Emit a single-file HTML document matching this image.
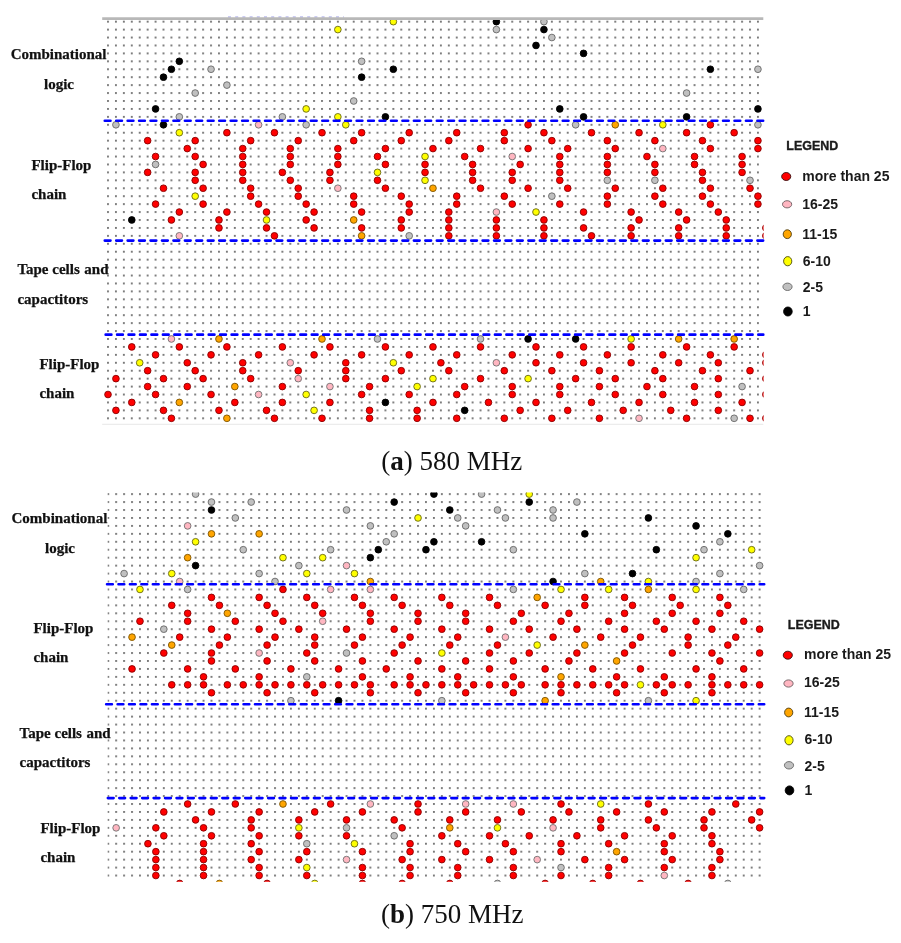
<!DOCTYPE html>
<html><head><meta charset="utf-8"><title>Figure</title>
<style>
html,body{margin:0;padding:0;background:#fff}
text{-webkit-font-smoothing:antialiased}
svg{will-change:transform}
body{width:901px;height:943px;overflow:hidden;position:relative}
.l{font-family:"Liberation Serif",serif;font-weight:bold;font-size:15px;fill:#111;stroke:#111;stroke-width:0.25px}
.lg{font-family:"Liberation Sans",sans-serif;font-weight:bold;font-size:12.8px;fill:#1a1a1a;stroke:#1a1a1a;stroke-width:0.35px}
.li{font-family:"Liberation Sans",sans-serif;font-weight:bold;font-size:14px;fill:#1a1a1a}
.cap{font-family:"Liberation Serif",serif;font-size:27px;fill:#111}
</style></head><body>
<svg width="901" height="943" viewBox="0 0 901 943" style="position:absolute;left:0;top:0">
<defs>
<pattern id="pa" x="107.05" y="20.7" width="7.926" height="7.933" patternUnits="userSpaceOnUse"><rect width="1.9" height="1.9" fill="#767676"/></pattern>
<pattern id="pb" x="107.25" y="493.15" width="7.944" height="7.946" patternUnits="userSpaceOnUse"><rect width="1.9" height="1.9" fill="#767676"/></pattern>
<clipPath id="ca"><rect x="100" y="20" width="663.5" height="405"/></clipPath>
<clipPath id="cb"><rect x="107.6" y="492.5" width="660" height="389.3"/></clipPath>
</defs>
<rect x="106" y="19.65" width="653.93" height="400.65" fill="url(#pa)"/>
<g clip-path="url(#ca)">
<g fill="#c0c0c0" stroke="#686868" stroke-width="0.9">
<circle cx="211.04" cy="69.25" r="3.35"/>
<circle cx="226.89" cy="85.11" r="3.35"/>
<circle cx="195.19" cy="93.05" r="3.35"/>
<circle cx="179.33" cy="116.85" r="3.35"/>
<circle cx="353.71" cy="100.98" r="3.35"/>
<circle cx="282.37" cy="116.85" r="3.35"/>
<circle cx="361.63" cy="61.31" r="3.35"/>
<circle cx="496.37" cy="29.58" r="3.35"/>
<circle cx="543.93" cy="21.65" r="3.35"/>
<circle cx="551.86" cy="37.52" r="3.35"/>
<circle cx="757.93" cy="69.25" r="3.35"/>
<circle cx="686.6" cy="93.05" r="3.35"/>
<circle cx="115.93" cy="124.78" r="3.35"/>
<circle cx="155.56" cy="164.44" r="3.35"/>
<circle cx="306.15" cy="124.78" r="3.35"/>
<circle cx="409.19" cy="235.84" r="3.35"/>
<circle cx="575.63" cy="124.78" r="3.35"/>
<circle cx="607.34" cy="180.31" r="3.35"/>
<circle cx="551.86" cy="196.18" r="3.35"/>
<circle cx="757.93" cy="124.78" r="3.35"/>
<circle cx="654.89" cy="180.31" r="3.35"/>
<circle cx="750.01" cy="180.31" r="3.35"/>
<circle cx="377.48" cy="338.97" r="3.35"/>
<circle cx="480.52" cy="338.97" r="3.35"/>
<circle cx="742.08" cy="386.57" r="3.35"/>
<circle cx="734.15" cy="418.3" r="3.35"/>
</g>
<g fill="#000000" stroke="#000000" stroke-width="0.9">
<circle cx="179.33" cy="61.31" r="3.35"/>
<circle cx="171.41" cy="69.25" r="3.35"/>
<circle cx="163.48" cy="77.18" r="3.35"/>
<circle cx="155.56" cy="108.91" r="3.35"/>
<circle cx="393.34" cy="69.25" r="3.35"/>
<circle cx="361.63" cy="77.18" r="3.35"/>
<circle cx="385.41" cy="116.85" r="3.35"/>
<circle cx="496.37" cy="21.65" r="3.35"/>
<circle cx="543.93" cy="29.58" r="3.35"/>
<circle cx="536" cy="45.45" r="3.35"/>
<circle cx="583.56" cy="53.38" r="3.35"/>
<circle cx="559.78" cy="108.91" r="3.35"/>
<circle cx="583.56" cy="116.85" r="3.35"/>
<circle cx="710.38" cy="69.25" r="3.35"/>
<circle cx="757.93" cy="108.91" r="3.35"/>
<circle cx="686.6" cy="116.85" r="3.35"/>
<circle cx="163.48" cy="124.78" r="3.35"/>
<circle cx="131.78" cy="219.97" r="3.35"/>
<circle cx="385.41" cy="402.43" r="3.35"/>
<circle cx="464.67" cy="410.37" r="3.35"/>
<circle cx="528.08" cy="338.97" r="3.35"/>
<circle cx="575.63" cy="338.97" r="3.35"/>
</g>
<g fill="#ffff00" stroke="#66661a" stroke-width="0.9">
<circle cx="337.85" cy="29.58" r="3.35"/>
<circle cx="306.15" cy="108.91" r="3.35"/>
<circle cx="337.85" cy="116.85" r="3.35"/>
<circle cx="393.34" cy="21.65" r="3.35"/>
<circle cx="179.33" cy="132.71" r="3.35"/>
<circle cx="195.19" cy="196.18" r="3.35"/>
<circle cx="345.78" cy="124.78" r="3.35"/>
<circle cx="266.52" cy="219.97" r="3.35"/>
<circle cx="425.04" cy="156.51" r="3.35"/>
<circle cx="377.48" cy="172.38" r="3.35"/>
<circle cx="425.04" cy="180.31" r="3.35"/>
<circle cx="536" cy="212.04" r="3.35"/>
<circle cx="662.82" cy="124.78" r="3.35"/>
<circle cx="139.7" cy="362.77" r="3.35"/>
<circle cx="306.15" cy="394.5" r="3.35"/>
<circle cx="314.08" cy="410.37" r="3.35"/>
<circle cx="393.34" cy="362.77" r="3.35"/>
<circle cx="432.97" cy="378.63" r="3.35"/>
<circle cx="417.11" cy="386.57" r="3.35"/>
<circle cx="528.08" cy="378.63" r="3.35"/>
<circle cx="631.12" cy="338.97" r="3.35"/>
</g>
<g fill="#ffa500" stroke="#7a5200" stroke-width="0.9">
<circle cx="353.71" cy="219.97" r="3.35"/>
<circle cx="432.97" cy="188.24" r="3.35"/>
<circle cx="361.63" cy="235.84" r="3.35"/>
<circle cx="615.26" cy="124.78" r="3.35"/>
<circle cx="218.96" cy="338.97" r="3.35"/>
<circle cx="179.33" cy="402.43" r="3.35"/>
<circle cx="226.89" cy="418.3" r="3.35"/>
<circle cx="322" cy="338.97" r="3.35"/>
<circle cx="234.82" cy="386.57" r="3.35"/>
<circle cx="678.67" cy="338.97" r="3.35"/>
<circle cx="734.15" cy="338.97" r="3.35"/>
</g>
<g fill="#ffb6c1" stroke="#707070" stroke-width="0.9">
<circle cx="179.33" cy="235.84" r="3.35"/>
<circle cx="258.59" cy="124.78" r="3.35"/>
<circle cx="337.85" cy="188.24" r="3.35"/>
<circle cx="512.23" cy="156.51" r="3.35"/>
<circle cx="496.37" cy="212.04" r="3.35"/>
<circle cx="662.82" cy="148.58" r="3.35"/>
<circle cx="171.41" cy="338.97" r="3.35"/>
<circle cx="290.3" cy="362.77" r="3.35"/>
<circle cx="298.22" cy="378.63" r="3.35"/>
<circle cx="329.93" cy="386.57" r="3.35"/>
<circle cx="258.59" cy="394.5" r="3.35"/>
<circle cx="496.37" cy="362.77" r="3.35"/>
<circle cx="639.04" cy="418.3" r="3.35"/>
</g>
<g fill="#ff0000" stroke="#880000" stroke-width="0.9">
<circle cx="226.89" cy="132.71" r="3.35"/>
<circle cx="147.63" cy="140.65" r="3.35"/>
<circle cx="195.19" cy="140.65" r="3.35"/>
<circle cx="187.26" cy="148.58" r="3.35"/>
<circle cx="155.56" cy="156.51" r="3.35"/>
<circle cx="195.19" cy="156.51" r="3.35"/>
<circle cx="203.11" cy="164.44" r="3.35"/>
<circle cx="147.63" cy="172.38" r="3.35"/>
<circle cx="195.19" cy="172.38" r="3.35"/>
<circle cx="195.19" cy="180.31" r="3.35"/>
<circle cx="163.48" cy="188.24" r="3.35"/>
<circle cx="203.11" cy="188.24" r="3.35"/>
<circle cx="155.56" cy="204.11" r="3.35"/>
<circle cx="203.11" cy="204.11" r="3.35"/>
<circle cx="179.33" cy="212.04" r="3.35"/>
<circle cx="226.89" cy="212.04" r="3.35"/>
<circle cx="171.41" cy="219.97" r="3.35"/>
<circle cx="218.96" cy="219.97" r="3.35"/>
<circle cx="218.96" cy="227.91" r="3.35"/>
<circle cx="274.45" cy="132.71" r="3.35"/>
<circle cx="322" cy="132.71" r="3.35"/>
<circle cx="250.67" cy="140.65" r="3.35"/>
<circle cx="298.22" cy="140.65" r="3.35"/>
<circle cx="353.71" cy="140.65" r="3.35"/>
<circle cx="242.74" cy="148.58" r="3.35"/>
<circle cx="290.3" cy="148.58" r="3.35"/>
<circle cx="337.85" cy="148.58" r="3.35"/>
<circle cx="242.74" cy="156.51" r="3.35"/>
<circle cx="290.3" cy="156.51" r="3.35"/>
<circle cx="337.85" cy="156.51" r="3.35"/>
<circle cx="242.74" cy="164.44" r="3.35"/>
<circle cx="290.3" cy="164.44" r="3.35"/>
<circle cx="337.85" cy="164.44" r="3.35"/>
<circle cx="242.74" cy="172.38" r="3.35"/>
<circle cx="282.37" cy="172.38" r="3.35"/>
<circle cx="329.93" cy="172.38" r="3.35"/>
<circle cx="242.74" cy="180.31" r="3.35"/>
<circle cx="290.3" cy="180.31" r="3.35"/>
<circle cx="329.93" cy="180.31" r="3.35"/>
<circle cx="250.67" cy="188.24" r="3.35"/>
<circle cx="298.22" cy="188.24" r="3.35"/>
<circle cx="250.67" cy="196.18" r="3.35"/>
<circle cx="298.22" cy="196.18" r="3.35"/>
<circle cx="353.71" cy="196.18" r="3.35"/>
<circle cx="258.59" cy="204.11" r="3.35"/>
<circle cx="306.15" cy="204.11" r="3.35"/>
<circle cx="353.71" cy="204.11" r="3.35"/>
<circle cx="266.52" cy="212.04" r="3.35"/>
<circle cx="314.08" cy="212.04" r="3.35"/>
<circle cx="306.15" cy="219.97" r="3.35"/>
<circle cx="266.52" cy="227.91" r="3.35"/>
<circle cx="314.08" cy="227.91" r="3.35"/>
<circle cx="274.45" cy="235.84" r="3.35"/>
<circle cx="361.63" cy="132.71" r="3.35"/>
<circle cx="409.19" cy="132.71" r="3.35"/>
<circle cx="456.74" cy="132.71" r="3.35"/>
<circle cx="401.26" cy="140.65" r="3.35"/>
<circle cx="448.82" cy="140.65" r="3.35"/>
<circle cx="385.41" cy="148.58" r="3.35"/>
<circle cx="432.97" cy="148.58" r="3.35"/>
<circle cx="480.52" cy="148.58" r="3.35"/>
<circle cx="377.48" cy="156.51" r="3.35"/>
<circle cx="464.67" cy="156.51" r="3.35"/>
<circle cx="385.41" cy="164.44" r="3.35"/>
<circle cx="425.04" cy="164.44" r="3.35"/>
<circle cx="472.6" cy="164.44" r="3.35"/>
<circle cx="425.04" cy="172.38" r="3.35"/>
<circle cx="472.6" cy="172.38" r="3.35"/>
<circle cx="377.48" cy="180.31" r="3.35"/>
<circle cx="472.6" cy="180.31" r="3.35"/>
<circle cx="385.41" cy="188.24" r="3.35"/>
<circle cx="480.52" cy="188.24" r="3.35"/>
<circle cx="401.26" cy="196.18" r="3.35"/>
<circle cx="456.74" cy="196.18" r="3.35"/>
<circle cx="409.19" cy="204.11" r="3.35"/>
<circle cx="456.74" cy="204.11" r="3.35"/>
<circle cx="361.63" cy="212.04" r="3.35"/>
<circle cx="409.19" cy="212.04" r="3.35"/>
<circle cx="448.82" cy="212.04" r="3.35"/>
<circle cx="401.26" cy="219.97" r="3.35"/>
<circle cx="448.82" cy="219.97" r="3.35"/>
<circle cx="361.63" cy="227.91" r="3.35"/>
<circle cx="401.26" cy="227.91" r="3.35"/>
<circle cx="448.82" cy="227.91" r="3.35"/>
<circle cx="448.82" cy="235.84" r="3.35"/>
<circle cx="528.08" cy="124.78" r="3.35"/>
<circle cx="504.3" cy="132.71" r="3.35"/>
<circle cx="543.93" cy="132.71" r="3.35"/>
<circle cx="591.49" cy="132.71" r="3.35"/>
<circle cx="504.3" cy="140.65" r="3.35"/>
<circle cx="551.86" cy="140.65" r="3.35"/>
<circle cx="607.34" cy="140.65" r="3.35"/>
<circle cx="528.08" cy="148.58" r="3.35"/>
<circle cx="567.71" cy="148.58" r="3.35"/>
<circle cx="615.26" cy="148.58" r="3.35"/>
<circle cx="559.78" cy="156.51" r="3.35"/>
<circle cx="607.34" cy="156.51" r="3.35"/>
<circle cx="520.15" cy="164.44" r="3.35"/>
<circle cx="559.78" cy="164.44" r="3.35"/>
<circle cx="607.34" cy="164.44" r="3.35"/>
<circle cx="512.23" cy="172.38" r="3.35"/>
<circle cx="559.78" cy="172.38" r="3.35"/>
<circle cx="607.34" cy="172.38" r="3.35"/>
<circle cx="512.23" cy="180.31" r="3.35"/>
<circle cx="559.78" cy="180.31" r="3.35"/>
<circle cx="528.08" cy="188.24" r="3.35"/>
<circle cx="567.71" cy="188.24" r="3.35"/>
<circle cx="615.26" cy="188.24" r="3.35"/>
<circle cx="504.3" cy="196.18" r="3.35"/>
<circle cx="607.34" cy="196.18" r="3.35"/>
<circle cx="512.23" cy="204.11" r="3.35"/>
<circle cx="559.78" cy="204.11" r="3.35"/>
<circle cx="607.34" cy="204.11" r="3.35"/>
<circle cx="583.56" cy="212.04" r="3.35"/>
<circle cx="496.37" cy="219.97" r="3.35"/>
<circle cx="543.93" cy="219.97" r="3.35"/>
<circle cx="496.37" cy="227.91" r="3.35"/>
<circle cx="543.93" cy="227.91" r="3.35"/>
<circle cx="583.56" cy="227.91" r="3.35"/>
<circle cx="496.37" cy="235.84" r="3.35"/>
<circle cx="543.93" cy="235.84" r="3.35"/>
<circle cx="591.49" cy="235.84" r="3.35"/>
<circle cx="710.38" cy="124.78" r="3.35"/>
<circle cx="639.04" cy="132.71" r="3.35"/>
<circle cx="686.6" cy="132.71" r="3.35"/>
<circle cx="734.15" cy="132.71" r="3.35"/>
<circle cx="654.89" cy="140.65" r="3.35"/>
<circle cx="702.45" cy="140.65" r="3.35"/>
<circle cx="757.93" cy="140.65" r="3.35"/>
<circle cx="710.38" cy="148.58" r="3.35"/>
<circle cx="757.93" cy="148.58" r="3.35"/>
<circle cx="646.97" cy="156.51" r="3.35"/>
<circle cx="694.52" cy="156.51" r="3.35"/>
<circle cx="742.08" cy="156.51" r="3.35"/>
<circle cx="654.89" cy="164.44" r="3.35"/>
<circle cx="694.52" cy="164.44" r="3.35"/>
<circle cx="742.08" cy="164.44" r="3.35"/>
<circle cx="654.89" cy="172.38" r="3.35"/>
<circle cx="702.45" cy="172.38" r="3.35"/>
<circle cx="742.08" cy="172.38" r="3.35"/>
<circle cx="702.45" cy="180.31" r="3.35"/>
<circle cx="662.82" cy="188.24" r="3.35"/>
<circle cx="710.38" cy="188.24" r="3.35"/>
<circle cx="750.01" cy="188.24" r="3.35"/>
<circle cx="654.89" cy="196.18" r="3.35"/>
<circle cx="702.45" cy="196.18" r="3.35"/>
<circle cx="757.93" cy="196.18" r="3.35"/>
<circle cx="662.82" cy="204.11" r="3.35"/>
<circle cx="710.38" cy="204.11" r="3.35"/>
<circle cx="757.93" cy="204.11" r="3.35"/>
<circle cx="631.12" cy="212.04" r="3.35"/>
<circle cx="678.67" cy="212.04" r="3.35"/>
<circle cx="718.3" cy="212.04" r="3.35"/>
<circle cx="639.04" cy="219.97" r="3.35"/>
<circle cx="686.6" cy="219.97" r="3.35"/>
<circle cx="726.23" cy="219.97" r="3.35"/>
<circle cx="631.12" cy="227.91" r="3.35"/>
<circle cx="678.67" cy="227.91" r="3.35"/>
<circle cx="726.23" cy="227.91" r="3.35"/>
<circle cx="631.12" cy="235.84" r="3.35"/>
<circle cx="678.67" cy="235.84" r="3.35"/>
<circle cx="726.23" cy="235.84" r="3.35"/>
<circle cx="765.86" cy="227.91" r="3.35"/>
<circle cx="765.86" cy="235.84" r="3.35"/>
<circle cx="131.78" cy="346.9" r="3.35"/>
<circle cx="179.33" cy="346.9" r="3.35"/>
<circle cx="226.89" cy="346.9" r="3.35"/>
<circle cx="155.56" cy="354.84" r="3.35"/>
<circle cx="211.04" cy="354.84" r="3.35"/>
<circle cx="187.26" cy="362.77" r="3.35"/>
<circle cx="147.63" cy="370.7" r="3.35"/>
<circle cx="195.19" cy="370.7" r="3.35"/>
<circle cx="115.93" cy="378.63" r="3.35"/>
<circle cx="163.48" cy="378.63" r="3.35"/>
<circle cx="203.11" cy="378.63" r="3.35"/>
<circle cx="147.63" cy="386.57" r="3.35"/>
<circle cx="187.26" cy="386.57" r="3.35"/>
<circle cx="108" cy="394.5" r="3.35"/>
<circle cx="155.56" cy="394.5" r="3.35"/>
<circle cx="211.04" cy="394.5" r="3.35"/>
<circle cx="131.78" cy="402.43" r="3.35"/>
<circle cx="115.93" cy="410.37" r="3.35"/>
<circle cx="163.48" cy="410.37" r="3.35"/>
<circle cx="218.96" cy="410.37" r="3.35"/>
<circle cx="171.41" cy="418.3" r="3.35"/>
<circle cx="282.37" cy="346.9" r="3.35"/>
<circle cx="329.93" cy="346.9" r="3.35"/>
<circle cx="258.59" cy="354.84" r="3.35"/>
<circle cx="314.08" cy="354.84" r="3.35"/>
<circle cx="242.74" cy="362.77" r="3.35"/>
<circle cx="345.78" cy="362.77" r="3.35"/>
<circle cx="242.74" cy="370.7" r="3.35"/>
<circle cx="298.22" cy="370.7" r="3.35"/>
<circle cx="345.78" cy="370.7" r="3.35"/>
<circle cx="250.67" cy="378.63" r="3.35"/>
<circle cx="345.78" cy="378.63" r="3.35"/>
<circle cx="282.37" cy="386.57" r="3.35"/>
<circle cx="234.82" cy="402.43" r="3.35"/>
<circle cx="282.37" cy="402.43" r="3.35"/>
<circle cx="329.93" cy="402.43" r="3.35"/>
<circle cx="266.52" cy="410.37" r="3.35"/>
<circle cx="274.45" cy="418.3" r="3.35"/>
<circle cx="322" cy="418.3" r="3.35"/>
<circle cx="385.41" cy="346.9" r="3.35"/>
<circle cx="432.97" cy="346.9" r="3.35"/>
<circle cx="480.52" cy="346.9" r="3.35"/>
<circle cx="361.63" cy="354.84" r="3.35"/>
<circle cx="409.19" cy="354.84" r="3.35"/>
<circle cx="456.74" cy="354.84" r="3.35"/>
<circle cx="440.89" cy="362.77" r="3.35"/>
<circle cx="401.26" cy="370.7" r="3.35"/>
<circle cx="448.82" cy="370.7" r="3.35"/>
<circle cx="385.41" cy="378.63" r="3.35"/>
<circle cx="480.52" cy="378.63" r="3.35"/>
<circle cx="369.56" cy="386.57" r="3.35"/>
<circle cx="464.67" cy="386.57" r="3.35"/>
<circle cx="361.63" cy="394.5" r="3.35"/>
<circle cx="409.19" cy="394.5" r="3.35"/>
<circle cx="456.74" cy="394.5" r="3.35"/>
<circle cx="432.97" cy="402.43" r="3.35"/>
<circle cx="369.56" cy="410.37" r="3.35"/>
<circle cx="417.11" cy="410.37" r="3.35"/>
<circle cx="369.56" cy="418.3" r="3.35"/>
<circle cx="417.11" cy="418.3" r="3.35"/>
<circle cx="456.74" cy="418.3" r="3.35"/>
<circle cx="536" cy="346.9" r="3.35"/>
<circle cx="583.56" cy="346.9" r="3.35"/>
<circle cx="512.23" cy="354.84" r="3.35"/>
<circle cx="559.78" cy="354.84" r="3.35"/>
<circle cx="607.34" cy="354.84" r="3.35"/>
<circle cx="536" cy="362.77" r="3.35"/>
<circle cx="583.56" cy="362.77" r="3.35"/>
<circle cx="504.3" cy="370.7" r="3.35"/>
<circle cx="551.86" cy="370.7" r="3.35"/>
<circle cx="599.41" cy="370.7" r="3.35"/>
<circle cx="575.63" cy="378.63" r="3.35"/>
<circle cx="615.26" cy="378.63" r="3.35"/>
<circle cx="512.23" cy="386.57" r="3.35"/>
<circle cx="559.78" cy="386.57" r="3.35"/>
<circle cx="599.41" cy="386.57" r="3.35"/>
<circle cx="512.23" cy="394.5" r="3.35"/>
<circle cx="559.78" cy="394.5" r="3.35"/>
<circle cx="615.26" cy="394.5" r="3.35"/>
<circle cx="488.45" cy="402.43" r="3.35"/>
<circle cx="536" cy="402.43" r="3.35"/>
<circle cx="591.49" cy="402.43" r="3.35"/>
<circle cx="520.15" cy="410.37" r="3.35"/>
<circle cx="567.71" cy="410.37" r="3.35"/>
<circle cx="504.3" cy="418.3" r="3.35"/>
<circle cx="551.86" cy="418.3" r="3.35"/>
<circle cx="599.41" cy="418.3" r="3.35"/>
<circle cx="631.12" cy="346.9" r="3.35"/>
<circle cx="686.6" cy="346.9" r="3.35"/>
<circle cx="734.15" cy="346.9" r="3.35"/>
<circle cx="662.82" cy="354.84" r="3.35"/>
<circle cx="710.38" cy="354.84" r="3.35"/>
<circle cx="631.12" cy="362.77" r="3.35"/>
<circle cx="678.67" cy="362.77" r="3.35"/>
<circle cx="718.3" cy="362.77" r="3.35"/>
<circle cx="654.89" cy="370.7" r="3.35"/>
<circle cx="702.45" cy="370.7" r="3.35"/>
<circle cx="750.01" cy="370.7" r="3.35"/>
<circle cx="662.82" cy="378.63" r="3.35"/>
<circle cx="718.3" cy="378.63" r="3.35"/>
<circle cx="646.97" cy="386.57" r="3.35"/>
<circle cx="694.52" cy="386.57" r="3.35"/>
<circle cx="662.82" cy="394.5" r="3.35"/>
<circle cx="718.3" cy="394.5" r="3.35"/>
<circle cx="639.04" cy="402.43" r="3.35"/>
<circle cx="694.52" cy="402.43" r="3.35"/>
<circle cx="742.08" cy="402.43" r="3.35"/>
<circle cx="623.19" cy="410.37" r="3.35"/>
<circle cx="670.75" cy="410.37" r="3.35"/>
<circle cx="718.3" cy="410.37" r="3.35"/>
<circle cx="686.6" cy="418.3" r="3.35"/>
<circle cx="750.01" cy="418.3" r="3.35"/>
<circle cx="765.86" cy="354.84" r="3.35"/>
<circle cx="765.86" cy="362.77" r="3.35"/>
<circle cx="765.86" cy="378.63" r="3.35"/>
<circle cx="765.86" cy="394.5" r="3.35"/>
<circle cx="765.86" cy="418.3" r="3.35"/>
</g>
</g>
<line x1="228" y1="17.0" x2="344" y2="17.0" stroke="#9a9ae6" stroke-width="1.2" stroke-dasharray="3 4.2"/>
<line x1="102.2" y1="18.6" x2="763.3" y2="18.6" stroke="#b8b8b8" stroke-width="2.7"/>
<line x1="102.2" y1="424.4" x2="763.3" y2="424.4" stroke="#ececec" stroke-width="1.2"/>
<line x1="104.75" y1="120.7" x2="763.3" y2="120.7" stroke="#0000ff" stroke-width="2.6" stroke-dasharray="5.75 5.7" stroke-linecap="round"/>
<line x1="104.75" y1="240.6" x2="763.3" y2="240.6" stroke="#0000ff" stroke-width="2.6" stroke-dasharray="5.75 5.7" stroke-linecap="round"/>
<line x1="105.65" y1="334.65" x2="763.3" y2="334.65" stroke="#0000ff" stroke-width="2.6" stroke-dasharray="5.75 5.7" stroke-linecap="round"/>
<g clip-path="url(#cb)">
<rect x="106.2" y="492.1" width="655.41" height="389.9" fill="url(#pb)"/>
<g fill="#c0c0c0" stroke="#686868" stroke-width="0.9">
<circle cx="195.58" cy="494.1" r="3.35"/>
<circle cx="211.47" cy="502.05" r="3.35"/>
<circle cx="124.09" cy="573.56" r="3.35"/>
<circle cx="251.19" cy="502.05" r="3.35"/>
<circle cx="346.52" cy="509.99" r="3.35"/>
<circle cx="235.3" cy="517.94" r="3.35"/>
<circle cx="243.25" cy="549.72" r="3.35"/>
<circle cx="330.63" cy="549.72" r="3.35"/>
<circle cx="298.86" cy="565.61" r="3.35"/>
<circle cx="259.14" cy="573.56" r="3.35"/>
<circle cx="275.02" cy="581.51" r="3.35"/>
<circle cx="481.57" cy="494.1" r="3.35"/>
<circle cx="457.74" cy="517.94" r="3.35"/>
<circle cx="370.35" cy="525.88" r="3.35"/>
<circle cx="465.68" cy="525.88" r="3.35"/>
<circle cx="394.18" cy="533.83" r="3.35"/>
<circle cx="386.24" cy="541.78" r="3.35"/>
<circle cx="576.9" cy="502.05" r="3.35"/>
<circle cx="497.46" cy="509.99" r="3.35"/>
<circle cx="553.06" cy="509.99" r="3.35"/>
<circle cx="505.4" cy="517.94" r="3.35"/>
<circle cx="553.06" cy="517.94" r="3.35"/>
<circle cx="513.34" cy="549.72" r="3.35"/>
<circle cx="584.84" cy="573.56" r="3.35"/>
<circle cx="719.89" cy="541.78" r="3.35"/>
<circle cx="704" cy="549.72" r="3.35"/>
<circle cx="759.61" cy="565.61" r="3.35"/>
<circle cx="719.89" cy="573.56" r="3.35"/>
<circle cx="696.06" cy="581.51" r="3.35"/>
<circle cx="187.64" cy="589.45" r="3.35"/>
<circle cx="163.81" cy="629.18" r="3.35"/>
<circle cx="346.52" cy="653.02" r="3.35"/>
<circle cx="306.8" cy="676.86" r="3.35"/>
<circle cx="290.91" cy="700.7" r="3.35"/>
<circle cx="441.85" cy="700.7" r="3.35"/>
<circle cx="513.34" cy="589.45" r="3.35"/>
<circle cx="743.72" cy="589.45" r="3.35"/>
<circle cx="648.39" cy="700.7" r="3.35"/>
<circle cx="346.52" cy="827.83" r="3.35"/>
<circle cx="306.8" cy="843.72" r="3.35"/>
<circle cx="394.18" cy="835.78" r="3.35"/>
<circle cx="561.01" cy="867.56" r="3.35"/>
<circle cx="497.46" cy="883.45" r="3.35"/>
<circle cx="727.83" cy="883.45" r="3.35"/>
</g>
<g fill="#000000" stroke="#000000" stroke-width="0.9">
<circle cx="211.47" cy="509.99" r="3.35"/>
<circle cx="195.58" cy="565.61" r="3.35"/>
<circle cx="433.9" cy="494.1" r="3.35"/>
<circle cx="394.18" cy="502.05" r="3.35"/>
<circle cx="449.79" cy="509.99" r="3.35"/>
<circle cx="433.9" cy="541.78" r="3.35"/>
<circle cx="481.57" cy="541.78" r="3.35"/>
<circle cx="378.3" cy="549.72" r="3.35"/>
<circle cx="425.96" cy="549.72" r="3.35"/>
<circle cx="370.35" cy="557.67" r="3.35"/>
<circle cx="529.23" cy="502.05" r="3.35"/>
<circle cx="584.84" cy="533.83" r="3.35"/>
<circle cx="553.06" cy="581.51" r="3.35"/>
<circle cx="648.39" cy="517.94" r="3.35"/>
<circle cx="696.06" cy="525.88" r="3.35"/>
<circle cx="727.83" cy="533.83" r="3.35"/>
<circle cx="656.34" cy="549.72" r="3.35"/>
<circle cx="632.5" cy="573.56" r="3.35"/>
<circle cx="338.58" cy="700.7" r="3.35"/>
</g>
<g fill="#ffff00" stroke="#66661a" stroke-width="0.9">
<circle cx="195.58" cy="541.78" r="3.35"/>
<circle cx="171.75" cy="573.56" r="3.35"/>
<circle cx="282.97" cy="557.67" r="3.35"/>
<circle cx="322.69" cy="557.67" r="3.35"/>
<circle cx="306.8" cy="573.56" r="3.35"/>
<circle cx="354.46" cy="573.56" r="3.35"/>
<circle cx="418.02" cy="517.94" r="3.35"/>
<circle cx="529.23" cy="494.1" r="3.35"/>
<circle cx="751.66" cy="549.72" r="3.35"/>
<circle cx="696.06" cy="557.67" r="3.35"/>
<circle cx="648.39" cy="581.51" r="3.35"/>
<circle cx="139.98" cy="589.45" r="3.35"/>
<circle cx="441.85" cy="653.02" r="3.35"/>
<circle cx="561.01" cy="589.45" r="3.35"/>
<circle cx="608.67" cy="589.45" r="3.35"/>
<circle cx="537.18" cy="645.07" r="3.35"/>
<circle cx="696.06" cy="589.45" r="3.35"/>
<circle cx="640.45" cy="684.8" r="3.35"/>
<circle cx="696.06" cy="700.7" r="3.35"/>
<circle cx="298.86" cy="827.83" r="3.35"/>
<circle cx="354.46" cy="843.72" r="3.35"/>
<circle cx="306.8" cy="867.56" r="3.35"/>
<circle cx="314.74" cy="883.45" r="3.35"/>
<circle cx="600.73" cy="803.99" r="3.35"/>
<circle cx="497.46" cy="827.83" r="3.35"/>
</g>
<g fill="#ffa500" stroke="#7a5200" stroke-width="0.9">
<circle cx="211.47" cy="533.83" r="3.35"/>
<circle cx="187.64" cy="557.67" r="3.35"/>
<circle cx="259.14" cy="533.83" r="3.35"/>
<circle cx="370.35" cy="581.51" r="3.35"/>
<circle cx="600.73" cy="581.51" r="3.35"/>
<circle cx="227.36" cy="613.29" r="3.35"/>
<circle cx="132.03" cy="637.13" r="3.35"/>
<circle cx="171.75" cy="645.07" r="3.35"/>
<circle cx="537.18" cy="597.4" r="3.35"/>
<circle cx="584.84" cy="645.07" r="3.35"/>
<circle cx="616.62" cy="660.97" r="3.35"/>
<circle cx="561.01" cy="676.86" r="3.35"/>
<circle cx="545.12" cy="700.7" r="3.35"/>
<circle cx="648.39" cy="589.45" r="3.35"/>
<circle cx="219.42" cy="883.45" r="3.35"/>
<circle cx="282.97" cy="803.99" r="3.35"/>
<circle cx="449.79" cy="827.83" r="3.35"/>
<circle cx="616.62" cy="851.67" r="3.35"/>
</g>
<g fill="#ffb6c1" stroke="#707070" stroke-width="0.9">
<circle cx="187.64" cy="525.88" r="3.35"/>
<circle cx="179.7" cy="581.51" r="3.35"/>
<circle cx="346.52" cy="565.61" r="3.35"/>
<circle cx="330.63" cy="589.45" r="3.35"/>
<circle cx="322.69" cy="621.24" r="3.35"/>
<circle cx="259.14" cy="653.02" r="3.35"/>
<circle cx="370.35" cy="589.45" r="3.35"/>
<circle cx="505.4" cy="637.13" r="3.35"/>
<circle cx="116.14" cy="827.83" r="3.35"/>
<circle cx="346.52" cy="859.62" r="3.35"/>
<circle cx="370.35" cy="803.99" r="3.35"/>
<circle cx="465.68" cy="803.99" r="3.35"/>
<circle cx="513.34" cy="803.99" r="3.35"/>
<circle cx="553.06" cy="827.83" r="3.35"/>
<circle cx="537.18" cy="859.62" r="3.35"/>
<circle cx="664.28" cy="875.51" r="3.35"/>
</g>
<g fill="#ff0000" stroke="#880000" stroke-width="0.9">
<circle cx="211.47" cy="597.4" r="3.35"/>
<circle cx="171.75" cy="605.34" r="3.35"/>
<circle cx="219.42" cy="605.34" r="3.35"/>
<circle cx="187.64" cy="613.29" r="3.35"/>
<circle cx="139.98" cy="621.24" r="3.35"/>
<circle cx="187.64" cy="621.24" r="3.35"/>
<circle cx="211.47" cy="629.18" r="3.35"/>
<circle cx="179.7" cy="637.13" r="3.35"/>
<circle cx="227.36" cy="637.13" r="3.35"/>
<circle cx="219.42" cy="645.07" r="3.35"/>
<circle cx="163.81" cy="653.02" r="3.35"/>
<circle cx="211.47" cy="653.02" r="3.35"/>
<circle cx="211.47" cy="660.97" r="3.35"/>
<circle cx="132.03" cy="668.91" r="3.35"/>
<circle cx="187.64" cy="668.91" r="3.35"/>
<circle cx="203.53" cy="676.86" r="3.35"/>
<circle cx="171.75" cy="684.8" r="3.35"/>
<circle cx="187.64" cy="684.8" r="3.35"/>
<circle cx="203.53" cy="684.8" r="3.35"/>
<circle cx="227.36" cy="684.8" r="3.35"/>
<circle cx="211.47" cy="692.75" r="3.35"/>
<circle cx="282.97" cy="589.45" r="3.35"/>
<circle cx="259.14" cy="597.4" r="3.35"/>
<circle cx="306.8" cy="597.4" r="3.35"/>
<circle cx="354.46" cy="597.4" r="3.35"/>
<circle cx="267.08" cy="605.34" r="3.35"/>
<circle cx="314.74" cy="605.34" r="3.35"/>
<circle cx="275.02" cy="613.29" r="3.35"/>
<circle cx="322.69" cy="613.29" r="3.35"/>
<circle cx="235.3" cy="621.24" r="3.35"/>
<circle cx="282.97" cy="621.24" r="3.35"/>
<circle cx="259.14" cy="629.18" r="3.35"/>
<circle cx="298.86" cy="629.18" r="3.35"/>
<circle cx="346.52" cy="629.18" r="3.35"/>
<circle cx="275.02" cy="637.13" r="3.35"/>
<circle cx="314.74" cy="637.13" r="3.35"/>
<circle cx="267.08" cy="645.07" r="3.35"/>
<circle cx="314.74" cy="645.07" r="3.35"/>
<circle cx="354.46" cy="645.07" r="3.35"/>
<circle cx="306.8" cy="653.02" r="3.35"/>
<circle cx="267.08" cy="660.97" r="3.35"/>
<circle cx="314.74" cy="660.97" r="3.35"/>
<circle cx="235.3" cy="668.91" r="3.35"/>
<circle cx="290.91" cy="668.91" r="3.35"/>
<circle cx="338.58" cy="668.91" r="3.35"/>
<circle cx="259.14" cy="676.86" r="3.35"/>
<circle cx="243.25" cy="684.8" r="3.35"/>
<circle cx="259.14" cy="684.8" r="3.35"/>
<circle cx="275.02" cy="684.8" r="3.35"/>
<circle cx="290.91" cy="684.8" r="3.35"/>
<circle cx="306.8" cy="684.8" r="3.35"/>
<circle cx="322.69" cy="684.8" r="3.35"/>
<circle cx="338.58" cy="684.8" r="3.35"/>
<circle cx="354.46" cy="684.8" r="3.35"/>
<circle cx="267.08" cy="692.75" r="3.35"/>
<circle cx="314.74" cy="692.75" r="3.35"/>
<circle cx="394.18" cy="597.4" r="3.35"/>
<circle cx="441.85" cy="597.4" r="3.35"/>
<circle cx="362.41" cy="605.34" r="3.35"/>
<circle cx="402.13" cy="605.34" r="3.35"/>
<circle cx="449.79" cy="605.34" r="3.35"/>
<circle cx="370.35" cy="613.29" r="3.35"/>
<circle cx="418.02" cy="613.29" r="3.35"/>
<circle cx="465.68" cy="613.29" r="3.35"/>
<circle cx="370.35" cy="621.24" r="3.35"/>
<circle cx="418.02" cy="621.24" r="3.35"/>
<circle cx="465.68" cy="621.24" r="3.35"/>
<circle cx="394.18" cy="629.18" r="3.35"/>
<circle cx="441.85" cy="629.18" r="3.35"/>
<circle cx="362.41" cy="637.13" r="3.35"/>
<circle cx="410.07" cy="637.13" r="3.35"/>
<circle cx="457.74" cy="637.13" r="3.35"/>
<circle cx="402.13" cy="645.07" r="3.35"/>
<circle cx="449.79" cy="645.07" r="3.35"/>
<circle cx="394.18" cy="653.02" r="3.35"/>
<circle cx="362.41" cy="660.97" r="3.35"/>
<circle cx="418.02" cy="660.97" r="3.35"/>
<circle cx="465.68" cy="660.97" r="3.35"/>
<circle cx="386.24" cy="668.91" r="3.35"/>
<circle cx="441.85" cy="668.91" r="3.35"/>
<circle cx="362.41" cy="676.86" r="3.35"/>
<circle cx="410.07" cy="676.86" r="3.35"/>
<circle cx="457.74" cy="676.86" r="3.35"/>
<circle cx="370.35" cy="684.8" r="3.35"/>
<circle cx="394.18" cy="684.8" r="3.35"/>
<circle cx="410.07" cy="684.8" r="3.35"/>
<circle cx="425.96" cy="684.8" r="3.35"/>
<circle cx="441.85" cy="684.8" r="3.35"/>
<circle cx="457.74" cy="684.8" r="3.35"/>
<circle cx="473.62" cy="684.8" r="3.35"/>
<circle cx="370.35" cy="692.75" r="3.35"/>
<circle cx="418.02" cy="692.75" r="3.35"/>
<circle cx="465.68" cy="692.75" r="3.35"/>
<circle cx="489.51" cy="597.4" r="3.35"/>
<circle cx="584.84" cy="597.4" r="3.35"/>
<circle cx="497.46" cy="605.34" r="3.35"/>
<circle cx="545.12" cy="605.34" r="3.35"/>
<circle cx="584.84" cy="605.34" r="3.35"/>
<circle cx="521.29" cy="613.29" r="3.35"/>
<circle cx="568.95" cy="613.29" r="3.35"/>
<circle cx="513.34" cy="621.24" r="3.35"/>
<circle cx="561.01" cy="621.24" r="3.35"/>
<circle cx="608.67" cy="621.24" r="3.35"/>
<circle cx="489.51" cy="629.18" r="3.35"/>
<circle cx="529.23" cy="629.18" r="3.35"/>
<circle cx="576.9" cy="629.18" r="3.35"/>
<circle cx="553.06" cy="637.13" r="3.35"/>
<circle cx="600.73" cy="637.13" r="3.35"/>
<circle cx="497.46" cy="645.07" r="3.35"/>
<circle cx="489.51" cy="653.02" r="3.35"/>
<circle cx="529.23" cy="653.02" r="3.35"/>
<circle cx="576.9" cy="653.02" r="3.35"/>
<circle cx="513.34" cy="660.97" r="3.35"/>
<circle cx="568.95" cy="660.97" r="3.35"/>
<circle cx="489.51" cy="668.91" r="3.35"/>
<circle cx="545.12" cy="668.91" r="3.35"/>
<circle cx="592.78" cy="668.91" r="3.35"/>
<circle cx="513.34" cy="676.86" r="3.35"/>
<circle cx="616.62" cy="676.86" r="3.35"/>
<circle cx="489.51" cy="684.8" r="3.35"/>
<circle cx="505.4" cy="684.8" r="3.35"/>
<circle cx="521.29" cy="684.8" r="3.35"/>
<circle cx="545.12" cy="684.8" r="3.35"/>
<circle cx="561.01" cy="684.8" r="3.35"/>
<circle cx="576.9" cy="684.8" r="3.35"/>
<circle cx="592.78" cy="684.8" r="3.35"/>
<circle cx="608.67" cy="684.8" r="3.35"/>
<circle cx="513.34" cy="692.75" r="3.35"/>
<circle cx="561.01" cy="692.75" r="3.35"/>
<circle cx="616.62" cy="692.75" r="3.35"/>
<circle cx="624.56" cy="597.4" r="3.35"/>
<circle cx="672.22" cy="597.4" r="3.35"/>
<circle cx="719.89" cy="597.4" r="3.35"/>
<circle cx="632.5" cy="605.34" r="3.35"/>
<circle cx="680.17" cy="605.34" r="3.35"/>
<circle cx="727.83" cy="605.34" r="3.35"/>
<circle cx="624.56" cy="613.29" r="3.35"/>
<circle cx="672.22" cy="613.29" r="3.35"/>
<circle cx="719.89" cy="613.29" r="3.35"/>
<circle cx="656.34" cy="621.24" r="3.35"/>
<circle cx="696.06" cy="621.24" r="3.35"/>
<circle cx="743.72" cy="621.24" r="3.35"/>
<circle cx="624.56" cy="629.18" r="3.35"/>
<circle cx="664.28" cy="629.18" r="3.35"/>
<circle cx="711.94" cy="629.18" r="3.35"/>
<circle cx="759.61" cy="629.18" r="3.35"/>
<circle cx="640.45" cy="637.13" r="3.35"/>
<circle cx="688.11" cy="637.13" r="3.35"/>
<circle cx="735.78" cy="637.13" r="3.35"/>
<circle cx="632.5" cy="645.07" r="3.35"/>
<circle cx="688.11" cy="645.07" r="3.35"/>
<circle cx="727.83" cy="645.07" r="3.35"/>
<circle cx="624.56" cy="653.02" r="3.35"/>
<circle cx="672.22" cy="653.02" r="3.35"/>
<circle cx="711.94" cy="653.02" r="3.35"/>
<circle cx="759.61" cy="653.02" r="3.35"/>
<circle cx="719.89" cy="660.97" r="3.35"/>
<circle cx="640.45" cy="668.91" r="3.35"/>
<circle cx="696.06" cy="668.91" r="3.35"/>
<circle cx="743.72" cy="668.91" r="3.35"/>
<circle cx="664.28" cy="676.86" r="3.35"/>
<circle cx="711.94" cy="676.86" r="3.35"/>
<circle cx="624.56" cy="684.8" r="3.35"/>
<circle cx="656.34" cy="684.8" r="3.35"/>
<circle cx="672.22" cy="684.8" r="3.35"/>
<circle cx="688.11" cy="684.8" r="3.35"/>
<circle cx="711.94" cy="684.8" r="3.35"/>
<circle cx="727.83" cy="684.8" r="3.35"/>
<circle cx="743.72" cy="684.8" r="3.35"/>
<circle cx="759.61" cy="684.8" r="3.35"/>
<circle cx="664.28" cy="692.75" r="3.35"/>
<circle cx="711.94" cy="692.75" r="3.35"/>
<circle cx="187.64" cy="803.99" r="3.35"/>
<circle cx="163.81" cy="811.94" r="3.35"/>
<circle cx="211.47" cy="811.94" r="3.35"/>
<circle cx="195.58" cy="819.89" r="3.35"/>
<circle cx="155.86" cy="827.83" r="3.35"/>
<circle cx="203.53" cy="827.83" r="3.35"/>
<circle cx="163.81" cy="835.78" r="3.35"/>
<circle cx="211.47" cy="835.78" r="3.35"/>
<circle cx="147.92" cy="843.72" r="3.35"/>
<circle cx="203.53" cy="843.72" r="3.35"/>
<circle cx="155.86" cy="851.67" r="3.35"/>
<circle cx="203.53" cy="851.67" r="3.35"/>
<circle cx="155.86" cy="859.62" r="3.35"/>
<circle cx="203.53" cy="859.62" r="3.35"/>
<circle cx="155.86" cy="867.56" r="3.35"/>
<circle cx="203.53" cy="867.56" r="3.35"/>
<circle cx="155.86" cy="875.51" r="3.35"/>
<circle cx="203.53" cy="875.51" r="3.35"/>
<circle cx="179.7" cy="883.45" r="3.35"/>
<circle cx="235.3" cy="803.99" r="3.35"/>
<circle cx="330.63" cy="803.99" r="3.35"/>
<circle cx="259.14" cy="811.94" r="3.35"/>
<circle cx="314.74" cy="811.94" r="3.35"/>
<circle cx="251.19" cy="819.89" r="3.35"/>
<circle cx="298.86" cy="819.89" r="3.35"/>
<circle cx="346.52" cy="819.89" r="3.35"/>
<circle cx="251.19" cy="827.83" r="3.35"/>
<circle cx="259.14" cy="835.78" r="3.35"/>
<circle cx="298.86" cy="835.78" r="3.35"/>
<circle cx="346.52" cy="835.78" r="3.35"/>
<circle cx="251.19" cy="843.72" r="3.35"/>
<circle cx="259.14" cy="851.67" r="3.35"/>
<circle cx="306.8" cy="851.67" r="3.35"/>
<circle cx="251.19" cy="859.62" r="3.35"/>
<circle cx="298.86" cy="859.62" r="3.35"/>
<circle cx="259.14" cy="867.56" r="3.35"/>
<circle cx="259.14" cy="875.51" r="3.35"/>
<circle cx="306.8" cy="875.51" r="3.35"/>
<circle cx="267.08" cy="883.45" r="3.35"/>
<circle cx="418.02" cy="803.99" r="3.35"/>
<circle cx="362.41" cy="811.94" r="3.35"/>
<circle cx="418.02" cy="811.94" r="3.35"/>
<circle cx="465.68" cy="811.94" r="3.35"/>
<circle cx="394.18" cy="819.89" r="3.35"/>
<circle cx="449.79" cy="819.89" r="3.35"/>
<circle cx="402.13" cy="827.83" r="3.35"/>
<circle cx="441.85" cy="835.78" r="3.35"/>
<circle cx="410.07" cy="843.72" r="3.35"/>
<circle cx="457.74" cy="843.72" r="3.35"/>
<circle cx="362.41" cy="851.67" r="3.35"/>
<circle cx="410.07" cy="851.67" r="3.35"/>
<circle cx="465.68" cy="851.67" r="3.35"/>
<circle cx="402.13" cy="859.62" r="3.35"/>
<circle cx="441.85" cy="859.62" r="3.35"/>
<circle cx="362.41" cy="867.56" r="3.35"/>
<circle cx="410.07" cy="867.56" r="3.35"/>
<circle cx="457.74" cy="867.56" r="3.35"/>
<circle cx="362.41" cy="875.51" r="3.35"/>
<circle cx="410.07" cy="875.51" r="3.35"/>
<circle cx="457.74" cy="875.51" r="3.35"/>
<circle cx="362.41" cy="883.45" r="3.35"/>
<circle cx="402.13" cy="883.45" r="3.35"/>
<circle cx="449.79" cy="883.45" r="3.35"/>
<circle cx="561.01" cy="803.99" r="3.35"/>
<circle cx="521.29" cy="811.94" r="3.35"/>
<circle cx="568.95" cy="811.94" r="3.35"/>
<circle cx="616.62" cy="811.94" r="3.35"/>
<circle cx="497.46" cy="819.89" r="3.35"/>
<circle cx="553.06" cy="819.89" r="3.35"/>
<circle cx="600.73" cy="819.89" r="3.35"/>
<circle cx="600.73" cy="827.83" r="3.35"/>
<circle cx="489.51" cy="835.78" r="3.35"/>
<circle cx="529.23" cy="835.78" r="3.35"/>
<circle cx="576.9" cy="835.78" r="3.35"/>
<circle cx="505.4" cy="843.72" r="3.35"/>
<circle cx="561.01" cy="843.72" r="3.35"/>
<circle cx="608.67" cy="843.72" r="3.35"/>
<circle cx="513.34" cy="851.67" r="3.35"/>
<circle cx="561.01" cy="851.67" r="3.35"/>
<circle cx="489.51" cy="859.62" r="3.35"/>
<circle cx="584.84" cy="859.62" r="3.35"/>
<circle cx="513.34" cy="867.56" r="3.35"/>
<circle cx="608.67" cy="867.56" r="3.35"/>
<circle cx="513.34" cy="875.51" r="3.35"/>
<circle cx="561.01" cy="875.51" r="3.35"/>
<circle cx="608.67" cy="875.51" r="3.35"/>
<circle cx="545.12" cy="883.45" r="3.35"/>
<circle cx="592.78" cy="883.45" r="3.35"/>
<circle cx="648.39" cy="803.99" r="3.35"/>
<circle cx="735.78" cy="803.99" r="3.35"/>
<circle cx="664.28" cy="811.94" r="3.35"/>
<circle cx="711.94" cy="811.94" r="3.35"/>
<circle cx="759.61" cy="811.94" r="3.35"/>
<circle cx="648.39" cy="819.89" r="3.35"/>
<circle cx="704" cy="819.89" r="3.35"/>
<circle cx="751.66" cy="819.89" r="3.35"/>
<circle cx="656.34" cy="827.83" r="3.35"/>
<circle cx="704" cy="827.83" r="3.35"/>
<circle cx="759.61" cy="827.83" r="3.35"/>
<circle cx="624.56" cy="835.78" r="3.35"/>
<circle cx="672.22" cy="835.78" r="3.35"/>
<circle cx="711.94" cy="835.78" r="3.35"/>
<circle cx="664.28" cy="843.72" r="3.35"/>
<circle cx="711.94" cy="843.72" r="3.35"/>
<circle cx="664.28" cy="851.67" r="3.35"/>
<circle cx="719.89" cy="851.67" r="3.35"/>
<circle cx="624.56" cy="859.62" r="3.35"/>
<circle cx="672.22" cy="859.62" r="3.35"/>
<circle cx="719.89" cy="859.62" r="3.35"/>
<circle cx="664.28" cy="867.56" r="3.35"/>
<circle cx="711.94" cy="867.56" r="3.35"/>
<circle cx="711.94" cy="875.51" r="3.35"/>
<circle cx="640.45" cy="883.45" r="3.35"/>
<circle cx="688.11" cy="883.45" r="3.35"/>
</g>
</g>
<line x1="107.05" y1="584.2" x2="764.2" y2="584.2" stroke="#0000ff" stroke-width="2.6" stroke-dasharray="5.75 5.7" stroke-linecap="round"/>
<line x1="106.15" y1="704.2" x2="764.2" y2="704.2" stroke="#0000ff" stroke-width="2.6" stroke-dasharray="5.75 5.7" stroke-linecap="round"/>
<line x1="107.85" y1="798.1" x2="764.2" y2="798.1" stroke="#0000ff" stroke-width="2.6" stroke-dasharray="5.75 5.7" stroke-linecap="round"/>
<text x="10.7" y="59.0" class="l">Combinational</text>
<text x="44" y="88.6" class="l">logic</text>
<text x="31.4" y="169.6" class="l">Flip-Flop</text>
<text x="31.4" y="198.9" class="l">chain</text>
<text x="17.4" y="274.2" class="l">Tape cells<tspan x="84.3">and</tspan></text>
<text x="17.4" y="303.9" class="l">capactitors</text>
<text x="39.4" y="368.6" class="l">Flip-Flop</text>
<text x="39.4" y="397.9" class="l">chain</text>
<text x="11.5" y="522.9" class="l">Combinational</text>
<text x="45" y="552.6" class="l">logic</text>
<text x="33.4" y="633.2" class="l">Flip-Flop</text>
<text x="33.4" y="662.3" class="l">chain</text>
<text x="19.6" y="737.7" class="l">Tape cells<tspan x="86.4">and</tspan></text>
<text x="19.6" y="767.4" class="l">capactitors</text>
<text x="40.4" y="832.6" class="l">Flip-Flop</text>
<text x="40.4" y="861.9" class="l">chain</text>
<text x="786.3" y="150.3" class="lg" textLength="52" lengthAdjust="spacingAndGlyphs">LEGEND</text>
<ellipse cx="786.2" cy="176.5" rx="4.55" ry="4.0" fill="#ff0000" stroke="#3a1010" stroke-width="0.9"/>
<text x="802.3" y="180.5" class="li">more than 25</text>
<ellipse cx="787.1" cy="204.3" rx="4.6" ry="3.6" fill="#ffb6c1" stroke="#6a5a5e" stroke-width="0.9"/>
<text x="802.3" y="209.0" class="li">16-25</text>
<ellipse cx="787.3" cy="234.2" rx="4.1" ry="4.4" fill="#ffa500" stroke="#4a3a10" stroke-width="0.9"/>
<text x="802.3" y="238.7" class="li">11-15</text>
<ellipse cx="787.7" cy="261.2" rx="4.1" ry="4.6" fill="#ffff00" stroke="#4a4a10" stroke-width="0.9"/>
<text x="802.8" y="265.9" class="li">6-10</text>
<ellipse cx="787.5" cy="286.8" rx="4.6" ry="3.7" fill="#c0c0c0" stroke="#666666" stroke-width="0.9"/>
<text x="802.8" y="292.4" class="li">2-5</text>
<ellipse cx="787.9" cy="311.5" rx="4.3" ry="4.5" fill="#000000" stroke="#000000" stroke-width="0.9"/>
<text x="802.8" y="316.0" class="li">1</text>
<text x="787.8" y="629.0" class="lg" textLength="52" lengthAdjust="spacingAndGlyphs">LEGEND</text>
<ellipse cx="787.8" cy="655.2" rx="4.55" ry="4.0" fill="#ff0000" stroke="#3a1010" stroke-width="0.9"/>
<text x="804.0" y="659.0" class="li">more than 25</text>
<ellipse cx="788.5" cy="683.5" rx="4.6" ry="3.6" fill="#ffb6c1" stroke="#6a5a5e" stroke-width="0.9"/>
<text x="804.0" y="687.0" class="li">16-25</text>
<ellipse cx="788.7" cy="712.5" rx="4.1" ry="4.4" fill="#ffa500" stroke="#4a3a10" stroke-width="0.9"/>
<text x="804.0" y="717.0" class="li">11-15</text>
<ellipse cx="789.0" cy="740.3" rx="4.1" ry="4.6" fill="#ffff00" stroke="#4a4a10" stroke-width="0.9"/>
<text x="804.5" y="743.7" class="li">6-10</text>
<ellipse cx="789.0" cy="765.3" rx="4.6" ry="3.7" fill="#c0c0c0" stroke="#666666" stroke-width="0.9"/>
<text x="804.5" y="771.0" class="li">2-5</text>
<ellipse cx="789.5" cy="790.4" rx="4.3" ry="4.5" fill="#000000" stroke="#000000" stroke-width="0.9"/>
<text x="804.5" y="794.9" class="li">1</text>
<text x="381.2" y="470.1" class="cap">(<tspan font-weight="bold">a</tspan>) 580 MHz</text>
<text x="381" y="922.9" class="cap">(<tspan font-weight="bold">b</tspan>) 750 MHz</text>
</svg>
</body></html>
